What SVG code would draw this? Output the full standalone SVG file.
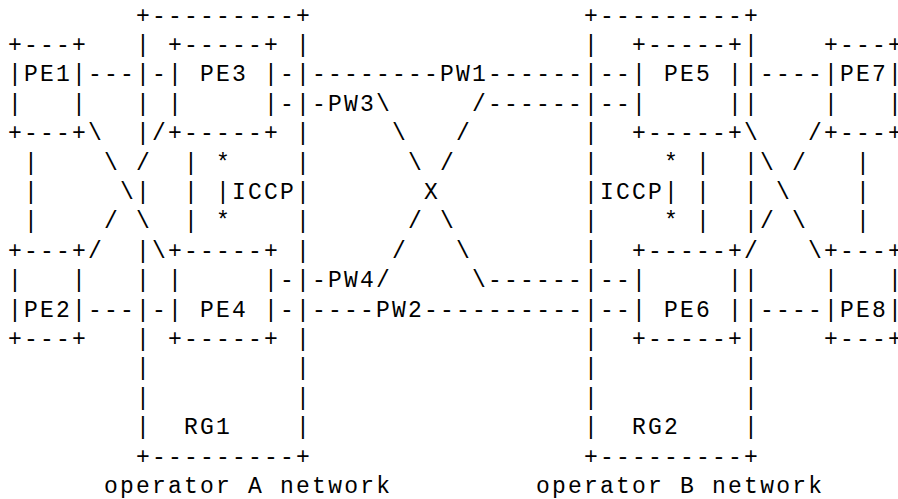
<svg xmlns="http://www.w3.org/2000/svg" width="898" height="499" viewBox="0 0 898 499">
<style>
text{font-family:"Liberation Mono","Courier New",monospace;font-size:23px;letter-spacing:2.2px;white-space:pre;fill:#000}
</style>
<rect width="898" height="499" fill="#fff"/>
<g id="RG1">
<text x="136.1" y="22.6">+---------+</text>
<text><tspan x="136.1" y="52">|</tspan><tspan x="136.1" y="81.4">|</tspan><tspan x="136.1" y="110.8">|</tspan><tspan x="136.1" y="140.2">|</tspan><tspan x="136.1" y="199">|</tspan><tspan x="136.1" y="257.8">|</tspan><tspan x="136.1" y="287.2">|</tspan><tspan x="136.1" y="316.6">|</tspan><tspan x="136.1" y="346">|</tspan><tspan x="136.1" y="375.4">|</tspan><tspan x="136.1" y="404.8">|</tspan><tspan x="136.1" y="434.2">|</tspan></text>
<text><tspan x="296.1" y="52">|</tspan><tspan x="296.1" y="81.4">|</tspan><tspan x="296.1" y="110.8">|</tspan><tspan x="296.1" y="140.2">|</tspan><tspan x="296.1" y="169.6">|</tspan><tspan x="296.1" y="199">|</tspan><tspan x="296.1" y="228.4">|</tspan><tspan x="296.1" y="257.8">|</tspan><tspan x="296.1" y="287.2">|</tspan><tspan x="296.1" y="316.6">|</tspan><tspan x="296.1" y="346">|</tspan><tspan x="296.1" y="375.4">|</tspan><tspan x="296.1" y="404.8">|</tspan><tspan x="296.1" y="434.2">|</tspan></text>
<text x="184.1" y="434.2">RG1</text>
<text x="136.1" y="463.6">+---------+</text>
</g>
<g id="RG2">
<text x="584.1" y="22.6">+---------+</text>
<text><tspan x="584.1" y="52">|</tspan><tspan x="584.1" y="81.4">|</tspan><tspan x="584.1" y="110.8">|</tspan><tspan x="584.1" y="140.2">|</tspan><tspan x="584.1" y="169.6">|</tspan><tspan x="584.1" y="199">|</tspan><tspan x="584.1" y="228.4">|</tspan><tspan x="584.1" y="257.8">|</tspan><tspan x="584.1" y="287.2">|</tspan><tspan x="584.1" y="316.6">|</tspan><tspan x="584.1" y="346">|</tspan><tspan x="584.1" y="375.4">|</tspan><tspan x="584.1" y="404.8">|</tspan><tspan x="584.1" y="434.2">|</tspan></text>
<text><tspan x="744.1" y="52">|</tspan><tspan x="744.1" y="81.4">|</tspan><tspan x="744.1" y="110.8">|</tspan><tspan x="744.1" y="169.6">|</tspan><tspan x="744.1" y="199">|</tspan><tspan x="744.1" y="228.4">|</tspan><tspan x="744.1" y="287.2">|</tspan><tspan x="744.1" y="316.6">|</tspan><tspan x="744.1" y="346">|</tspan><tspan x="744.1" y="375.4">|</tspan><tspan x="744.1" y="404.8">|</tspan><tspan x="744.1" y="434.2">|</tspan></text>
<text x="632.1" y="434.2">RG2</text>
<text x="584.1" y="463.6">+---------+</text>
</g>
<g id="PE1">
<text x="8.1" y="52">+---+</text>
<text x="8.1" y="81.4">|PE1|</text>
<text x="8.1" y="110.8">|   |</text>
<text x="8.1" y="140.2">+---+</text>
</g>
<g id="PE2">
<text x="8.1" y="257.8">+---+</text>
<text x="8.1" y="287.2">|   |</text>
<text x="8.1" y="316.6">|PE2|</text>
<text x="8.1" y="346">+---+</text>
</g>
<g id="PE3">
<text x="168.1" y="52">+-----+</text>
<text x="168.1" y="81.4">| PE3 |</text>
<text x="168.1" y="110.8">|     |</text>
<text x="168.1" y="140.2">+-----+</text>
</g>
<g id="PE4">
<text x="168.1" y="257.8">+-----+</text>
<text x="168.1" y="287.2">|     |</text>
<text x="168.1" y="316.6">| PE4 |</text>
<text x="168.1" y="346">+-----+</text>
</g>
<g id="PE5">
<text x="632.1" y="52">+-----+</text>
<text x="632.1" y="81.4">| PE5 |</text>
<text x="632.1" y="110.8">|     |</text>
<text x="632.1" y="140.2">+-----+</text>
</g>
<g id="PE6">
<text x="632.1" y="257.8">+-----+</text>
<text x="632.1" y="287.2">|     |</text>
<text x="632.1" y="316.6">| PE6 |</text>
<text x="632.1" y="346">+-----+</text>
</g>
<g id="PE7">
<text x="824.1" y="52">+---+</text>
<text x="824.1" y="81.4">|PE7|</text>
<text x="824.1" y="110.8">|   |</text>
<text x="824.1" y="140.2">+---+</text>
</g>
<g id="PE8">
<text x="824.1" y="257.8">+---+</text>
<text x="824.1" y="287.2">|   |</text>
<text x="824.1" y="316.6">|PE8|</text>
<text x="824.1" y="346">+---+</text>
</g>
<g id="ICCP-A">
<text><tspan x="184.1" y="169.6">|</tspan><tspan x="184.1" y="199">|</tspan><tspan x="184.1" y="228.4">|</tspan></text>
<text x="216.1" y="169.6">*</text>
<text x="216.1" y="199">|ICCP</text>
<text x="216.1" y="228.4">*</text>
</g>
<g id="ICCP-B">
<text x="664.1" y="169.6">*</text>
<text x="600.1" y="199">ICCP|</text>
<text x="664.1" y="228.4">*</text>
<text><tspan x="696.1" y="169.6">|</tspan><tspan x="696.1" y="199">|</tspan><tspan x="696.1" y="228.4">|</tspan></text>
</g>
<g id="connectors">
<text x="88.1" y="81.4">---</text>
<text x="152.1" y="81.4">-</text>
<text x="280.1" y="81.4">-</text>
<text x="312.1" y="81.4">--------PW1------</text>
<text x="600.1" y="81.4">--</text>
<text x="760.1" y="81.4">----</text>
<text x="280.1" y="110.8">-</text>
<text x="312.1" y="110.8">-PW3\</text>
<text x="472.1" y="110.8">/------</text>
<text x="600.1" y="110.8">--</text>
<text x="88.1" y="140.2">\</text>
<text x="152.1" y="140.2">/</text>
<text x="392.1" y="140.2">\</text>
<text x="456.1" y="140.2">/</text>
<text x="744.1" y="140.2">\</text>
<text x="808.1" y="140.2">/</text>
<text x="24.1" y="169.6">|</text>
<text x="104.1" y="169.6">\</text>
<text x="136.1" y="169.6">/</text>
<text x="408.1" y="169.6">\</text>
<text x="440.1" y="169.6">/</text>
<text x="760.1" y="169.6">\</text>
<text x="792.1" y="169.6">/</text>
<text x="856.1" y="169.6">|</text>
<text x="24.1" y="199">|</text>
<text x="120.1" y="199">\</text>
<text x="424.1" y="199">X</text>
<text x="776.1" y="199">\</text>
<text x="856.1" y="199">|</text>
<text x="24.1" y="228.4">|</text>
<text x="104.1" y="228.4">/</text>
<text x="136.1" y="228.4">\</text>
<text x="408.1" y="228.4">/</text>
<text x="440.1" y="228.4">\</text>
<text x="760.1" y="228.4">/</text>
<text x="792.1" y="228.4">\</text>
<text x="856.1" y="228.4">|</text>
<text x="88.1" y="257.8">/</text>
<text x="152.1" y="257.8">\</text>
<text x="392.1" y="257.8">/</text>
<text x="456.1" y="257.8">\</text>
<text x="744.1" y="257.8">/</text>
<text x="808.1" y="257.8">\</text>
<text x="280.1" y="287.2">-</text>
<text x="312.1" y="287.2">-PW4/</text>
<text x="472.1" y="287.2">\------</text>
<text x="600.1" y="287.2">--</text>
<text x="88.1" y="316.6">---</text>
<text x="152.1" y="316.6">-</text>
<text x="280.1" y="316.6">-</text>
<text x="312.1" y="316.6">----PW2----------</text>
<text x="600.1" y="316.6">--</text>
<text x="760.1" y="316.6">----</text>
</g>
<g id="labels">
<text x="104.1" y="493">operator A network</text>
<text x="536.1" y="493">operator B network</text>
</g>
</svg>
